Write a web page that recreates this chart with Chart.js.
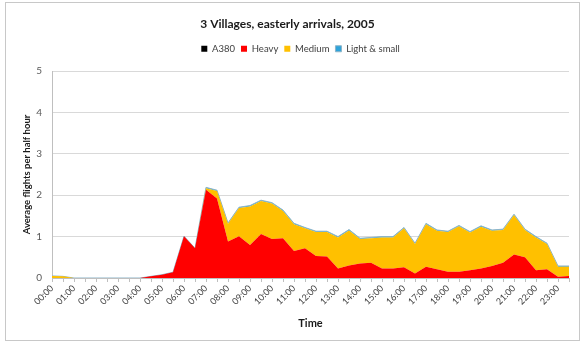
<!DOCTYPE html>
<html><head><meta charset="utf-8">
<script src="https://cdn.jsdelivr.net/npm/chart.js@4"></script>
<style>
html,body{margin:0;padding:0;background:#fff;}
#wrap{position:relative;width:584px;height:343px;}
#frame{position:absolute;left:5px;top:2px;width:573px;height:337px;border:1px solid #C8C8C8;pointer-events:none;}
</style></head><body>
<div id="wrap"><canvas id="c" width="584" height="343"></canvas><div id="frame"></div></div>
<script>
const categories = ["00:00","00:30","01:00","01:30","02:00","02:30","03:00","03:30","04:00","04:30","05:00","05:30",
  "06:00","06:30","07:00","07:30","08:00","08:30","09:00","09:30","10:00","10:30","11:00","11:30",
  "12:00","12:30","13:00","13:30","14:00","14:30","15:00","15:30","16:00","16:30","17:00","17:30",
  "18:00","18:30","19:00","19:30","20:00","20:30","21:00","21:30","22:00","22:30","23:00","23:30"];
const a380 = [0,0,0,0,0,0,0,0,0,0,0,0,0,0,0,0,0,0,0,0,0,0,0,0,0,0,0,0,0,0,0,0,0,0,0,0,0,0,0,0,0,0,0,0,0,0,0,0];
const heavy = [0,0,0,0,0,0,0,0,0,0.04,0.08,0.14,1.01,0.72,2.13,1.92,0.88,1.01,0.80,1.06,0.94,0.96,0.65,0.72,
  0.53,0.52,0.23,0.30,0.35,0.37,0.23,0.23,0.26,0.11,0.27,0.21,0.15,0.15,0.19,0.23,0.29,0.37,0.57,0.50,0.19,0.21,0.03,0.05];
const medium = [0.05,0.04,0,0,0,0,0,0,0,0,0,0,0,0,0.04,0.18,0.43,0.68,0.93,0.80,0.86,0.66,0.65,0.48,
  0.58,0.59,0.75,0.85,0.59,0.59,0.75,0.75,0.94,0.71,1.03,0.93,0.96,1.10,0.91,1.01,0.85,0.79,0.95,0.66,0.79,0.61,0.24,0.22];
const light = [0,0,0,0,0,0,0,0,0,0,0,0,0,0,0.02,0.02,0.02,0.02,0.02,0.02,0.02,0.02,0.02,0.02,
  0.02,0.02,0.02,0.02,0.02,0.02,0.02,0.02,0.02,0.02,0.02,0.02,0.02,0.02,0.02,0.02,0.02,0.02,0.02,0.02,0.02,0.02,0.02,0.02];
const yTicks = [0,1,2,3,4,5];

const FONT = "Lato";
function ds(label, data, color, fill, border) {
  return {label, data, backgroundColor: color, borderColor: border || color, borderWidth: border ? 1 : 0,
    fill, pointRadius: 0, tension: 0};
}
const placeHeader = {
  id: 'placeHeader',
  afterLayout(chart) {
    const t = chart.titleBlock, l = chart.legend;
    if (t) { const h = t.bottom - t.top; t.top = 2; t.bottom = 2 + h; t.left += 3; t.right += 3; }
    if (l) { const h = l.bottom - l.top; l.top = 38; l.bottom = 38 + h; l.left += 16; l.right += 16; }
  }
};
new Chart(document.getElementById('c'), {
  type: 'line',
  data: {
    labels: categories,
    datasets: [
      ds('A380', a380, '#000000', 'origin'),
      ds('Heavy', heavy, '#FF0000', '-1'),
      ds('Medium', medium, '#FFC000', '-1'),
      ds('Light & small', light, '#2EA3DA', '-1', '#8DB4C8')
    ]
  },
  plugins: [placeHeader],
  options: {
    responsive: false,
    animation: false,
    devicePixelRatio: 1,
    layout: {padding: {left: 0, right: 15, top: 0, bottom: 0}},
    plugins: {
      title: {display: true, text: '3 Villages, easterly arrivals, 2005', color: '#1a1a1a',
        font: {family: FONT, size: 12, weight: 'bold'}, padding: {top: 15, bottom: 4}},
      legend: {display: true, position: 'top',
        labels: {boxWidth: 6, boxHeight: 6, padding: 6, color: '#404040', font: {family: FONT, size: 9.5}}},
      tooltip: {enabled: false}
    },
    scales: {
      x: {
        stacked: true,
        offset: false,
        grid: {display: true, drawOnChartArea: false, drawTicks: true, tickLength: 4, color: '#BFBFBF'},
        border: {color: '#BFBFBF'},
        ticks: {autoSkip: false, minRotation: 45, maxRotation: 45, color: '#404040', padding: 1,
          font: {family: FONT, size: 9},
          callback: (v, i) => i % 2 === 0 ? categories[i] : ''},
        title: {display: true, text: 'Time', color: '#1a1a1a', font: {family: FONT, size: 11, weight: 'bold'},
          padding: {top: 0, bottom: 13}},
        afterFit: s => { s.height = 65; }
      },
      y: {
        stacked: true,
        min: 0, max: 5,
        afterBuildTicks: s => { s.ticks = yTicks.map(v => ({value: v})); },
        grid: {color: '#D9D9D9', drawTicks: false},
        border: {color: '#BFBFBF'},
        ticks: {color: '#595959', padding: 10, font: {family: FONT, size: 10}},
        title: {display: true, text: 'Average flights per half hour', color: '#1a1a1a',
          font: {family: FONT, size: 9.5, weight: 'bold'}, padding: {top: 21, bottom: 0}},
        afterFit: s => { s.width = 52; s.paddingTop = 71; }
      }
    }
  }
});
</script>
</body></html>
